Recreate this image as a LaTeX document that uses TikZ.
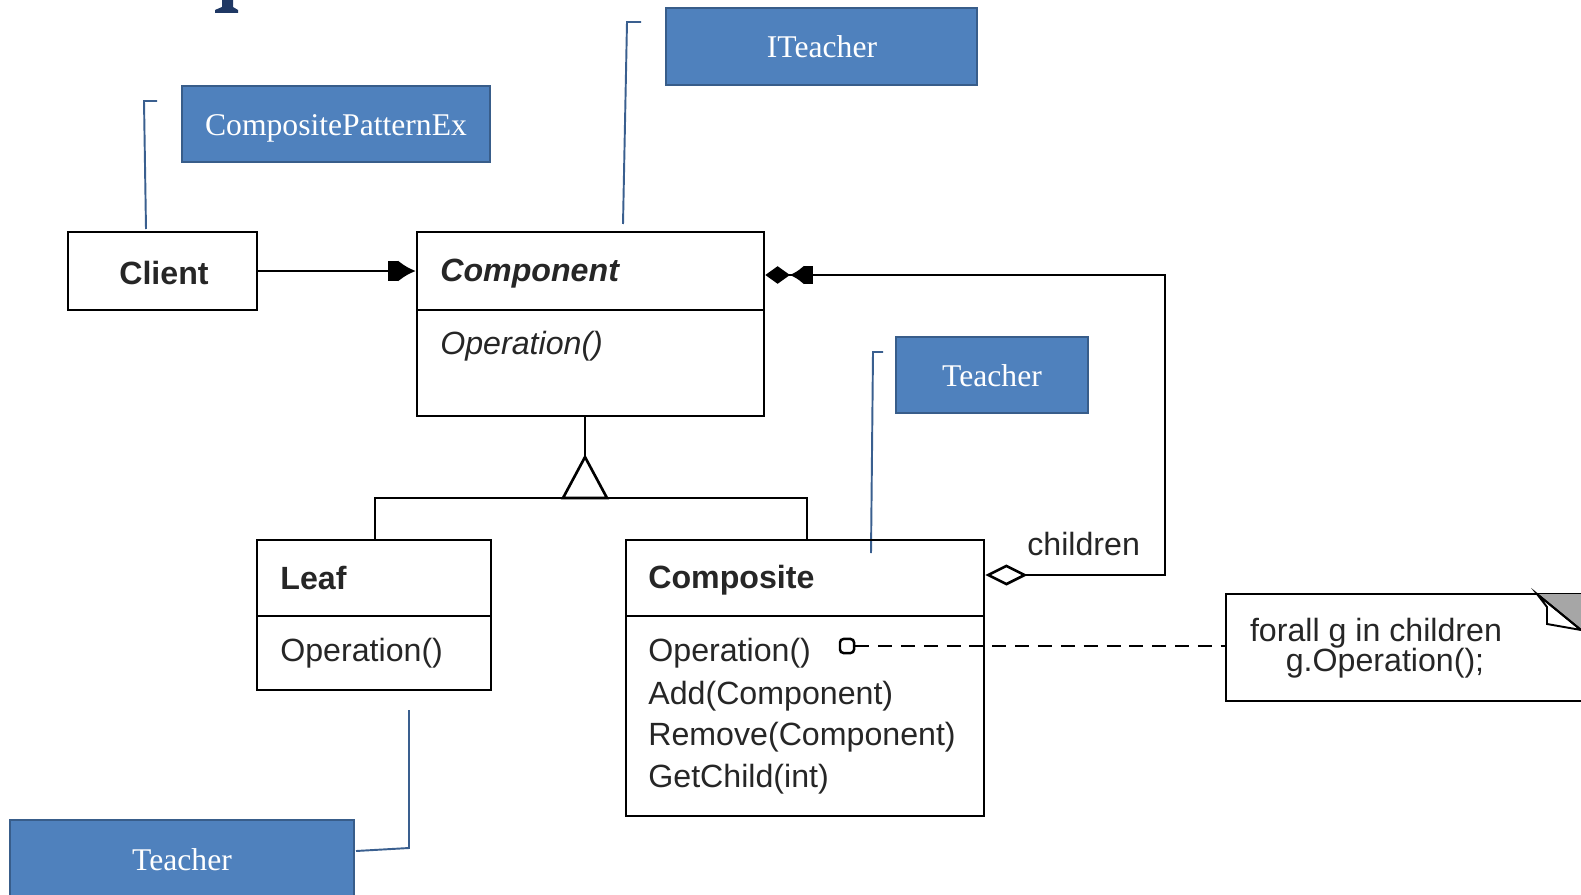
\documentclass[tikz,border=0pt]{standalone}
\usepackage{fontspec}
\setmainfont{Liberation Serif}
\setsansfont{Liberation Sans}
\usetikzlibrary{arrows.meta,fit}
\definecolor{wblue}{HTML}{4F81BD}
\definecolor{wborder}{HTML}{385D8A}
\definecolor{lead}{HTML}{3A5F8F}
\definecolor{navy}{HTML}{1F3864}
\definecolor{umlgray}{HTML}{A6A6A6}
\begin{document}
\begin{tikzpicture}[x=0.02cm,y=-0.02cm,
  umlbox/.style={draw=black, line width=1.5pt, inner sep=0pt},
  tag/.style={fill=wblue, draw=wborder, line width=1.4pt, inner sep=0pt},
  tagtext/.style={text=white, font=\fontsize{18}{20}\selectfont, inner sep=0pt, anchor=base},
  umltext/.style={font=\sffamily\fontsize{18.3}{21}\selectfont, anchor=west, inner sep=0pt, text=black!85},
  leader/.style={draw=lead, line width=1.1pt},
  conn/.style={line width=1.5pt}
]
\useasboundingbox (0,0) rectangle (1581,895);
\clip (0,0) rectangle (1581,895);

% fragment of a cut-off title letter
\fill[navy] (222,0) -- (233,0) -- (233,7) -- (238,10) -- (238,13) -- (215,13) -- (215,10) -- (222,7) -- cycle;

% ---------- blue tags ----------
\node[tag, fit={(666,8) (977,85)}] (iteacher) {};
\node[tagtext] (iteachert) at (822,58) {ITeacher};
\node[tag, fit={(182,86) (490,162)}] (cpe) {};
\node[tagtext] (cpet) at (336,136) {CompositePatternEx};
\node[tag, fit={(896,337) (1088,413)}] (teacherr) {};
\node[tagtext] (teacherrt) at (992,386) {Teacher};
\node[tag, fit={(10,820) (354,902)}] (teacherb) {};
\node[tagtext] (teacherbt) at (182,870) {Teacher};

% leader lines
\coordinate (l1a) at (157,101); \coordinate (l1b) at (144,101); \coordinate (l1c) at (146,229);
\draw[leader] (l1a) -- (l1b) -- (l1c);
\coordinate (l2a) at (641,22); \coordinate (l2b) at (627,22); \coordinate (l2c) at (623,224);
\draw[leader] (l2a) -- (l2b) -- (l2c);
\coordinate (l3a) at (883,352); \coordinate (l3b) at (873,352); \coordinate (l3c) at (871,553);
\draw[leader] (l3a) -- (l3b) -- (l3c);
\coordinate (l4a) at (356,851); \coordinate (l4b) at (409,848); \coordinate (l4c) at (409,710);
\draw[leader] (l4a) -- (l4b) -- (l4c);

% ---------- UML boxes ----------
\node[umlbox, fit={(68,232) (257,310)}] (client) {};
\node[font=\sffamily\bfseries\fontsize{18.3}{21}\selectfont, inner sep=0pt, text=black!85] (clientt) at (164,273) {Client};

\node[umlbox, fit={(417,232) (764,416)}] (comp) {};
\draw[conn] (417,310) -- (764,310);
\node[umltext, font=\sffamily\bfseries\itshape\fontsize{18.3}{21}\selectfont] (compt) at (440,274) {Component};
\node[umltext, font=\sffamily\itshape\fontsize{18.3}{21}\selectfont] (compop) at (440,346) {Operation()};

\node[umlbox, fit={(257,540) (491,690)}] (leaf) {};
\draw[conn] (257,616) -- (491,616);
\node[umltext, font=\sffamily\bfseries\fontsize{18.3}{21}\selectfont] (leaft) at (280,578) {Leaf};
\node[umltext] (leafop) at (280,653) {Operation()};

\node[umlbox, fit={(626,540) (984,816)}] (composite) {};
\draw[conn] (626,616) -- (984,616);
\node[umltext, font=\sffamily\bfseries\fontsize{18.3}{21}\selectfont] (compositet) at (648,580) {Composite};
\node[umltext] (m1) at (648,653) {Operation()};
\node[umltext] (m2) at (648,696) {Add(Component)};
\node[umltext] (m3) at (648,737) {Remove(Component)};
\node[umltext] (m4) at (648,779) {GetChild(int)};

% note
\node[umlbox, fit={(1226,594) (1620,701)}] (note) {};
\fill[umlgray] (1537,594) -- (1581,594) -- (1581,630) -- cycle;
\draw[line width=1.1pt, fill=white] (1537,594) -- (1581,630) -- (1547,624) -- (1547,607) -- cycle;
\draw[line width=1.1pt] (1537,594) -- (1581,630);
\node[font=\sffamily\fontsize{18.3}{17}\selectfont, inner sep=0pt, text=black!85] (notet1) at (1376,633) {forall g in children};
\node[font=\sffamily\fontsize{18.3}{17}\selectfont, inner sep=0pt, text=black!85] (notet2) at (1385,663) {g.Operation();};

% ---------- connectors ----------
\draw[conn, -{Rectangle[length=6pt,width=11pt]Latex[length=10pt,width=12pt]}] (client.east) -- (client.east -| comp.west);

\coordinate (apex) at (585,457);
\coordinate (lj) at (375,498);
\coordinate (cj) at (807,498);
\draw[conn] (apex |- comp.south) -- (apex);
\draw[conn] (apex) -- (563,498) -- (607,498) -- cycle;
\draw[conn] (lj |- leaf.north) -- (lj) -- (cj) -- (cj |- composite.north);

\coordinate (agg) at (1165,575);
\coordinate (aggtop) at (1165,275);
\draw[conn, {Diamond[open,length=24pt,width=12pt]}-{Rectangle[length=5pt,width=10pt]Latex[length=8pt,width=11pt]Diamond[length=14pt,width=10pt]}]
  (agg -| composite.east) -- (agg) -- (aggtop) -- (aggtop -| comp.east);
\node[font=\sffamily\fontsize{18.3}{21}\selectfont, anchor=west, inner sep=0pt, text=black!85] (children) at (1027,544) {children};

\node[draw, line width=1.4pt, rounded corners=2pt, minimum size=8pt, inner sep=0pt] (dot) at (847,646) {};
\draw[conn, dash pattern=on 8pt off 5pt] (dot.east) -- (dot.east -| note.west);
\end{tikzpicture}
\end{document}
